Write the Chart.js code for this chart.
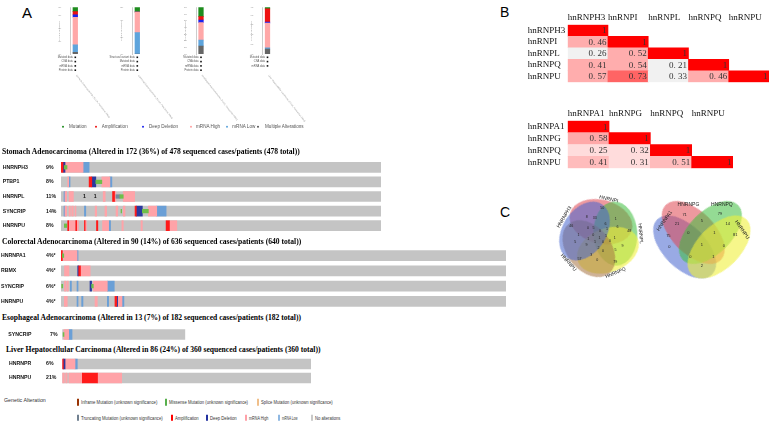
<!DOCTYPE html>
<html>
<head>
<meta charset="utf-8">
<script src="https://cdn.jsdelivr.net/npm/chart.js@4.4.1/dist/chart.umd.min.js"></script>
<style>
  body { margin: 0; width: 769px; height: 425px; background: #fff; position: relative; overflow: hidden;
         font-family: "Liberation Sans", Arial, sans-serif; }
  canvas { position: absolute; }
  .t { position: absolute; white-space: nowrap; line-height: 1; transform: translateY(-50%); color: #000; }
  .ttl { font-family: "Liberation Serif", serif; font-weight: bold; font-size: 7.6px; color: #000; }
  .leg { font-family: "Liberation Sans", sans-serif; font-size: 5px; color: #333; transform-origin: 0 50%; }
  .mleg { font-size: 4.6px; color: #555; }
  .sw { position: absolute; width: 2.2px; height: 6.5px; transform: translateY(-50%); }
  .dot { position: absolute; width: 2.4px; height: 2.4px; border-radius: 50%; transform: translateY(-50%); }
</style>
</head>
<body>
<script>
// ---------- data ----------
// summary bars (alteration frequency, %)
const miniStudies = ['Stomach Adenocarcinoma (TCGA, PanCancer Atlas)', 'Colorectal Adenocarcinoma (TCGA, PanCancer Atlas)',
  'Esophageal Adenocarcinoma (TCGA, PanCancer Atlas)', 'Liver Hepatocellular Carcinoma (TCGA, PanCancer Atlas)'];
const miniProfiles = [
  ['Mutated data', 'CNA data', 'mRNA data', 'Protein data'],
  ['Structural variant data', 'Mutated data', 'mRNA data', 'Protein data'],
  ['Mutated data', 'CNA data', 'mRNA data', 'Protein data'],
  ['Mutated data', 'CNA data', 'mRNA data']
];
const miniTypes = ['Multiple Alterations', 'mRNA Low', 'mRNA High', 'Deep Deletion', 'Amplification', 'Mutation'];
const miniMultiple = [1.3, 0, 1.2, 2.5];
const miniLow = [5.7, 6.4, 0.9, 0.7];
const miniHigh = [21.3, 6.2, 2.6, 12.7];
const miniDeep = [1.8, 0, 0.4, 0.5];
const miniAmp = [2.6, 0, 0.5, 6.8];
const miniMut = [3.3, 1.4, 1.4, 0.8];

// oncoprint tracks: [row, alteration, first case, last case]
const stomachGenes = ['HNRNPH3', 'PTBP1', 'HNRNPL', 'SYNCRIP', 'HNRNPU'];
const stomachPct = ['9%', '8%', '11%', '14%', '8%'];
const stomachCases = 478;
const stomachRuns = [
  [0,'amp',0,3],[0,'del',3,6],[0,'high',6,33],[0,'low',33,42],[0,'mis',5,9],
  [1,'high',10,11.5],[1,'low',12,13.5],[1,'amp',42,46],[1,'del',46,52],[1,'mis',52,61],[1,'high',61,73],[1,'low',73,76],
  [2,'low',4.5,6],[2,'high',6,8.5],[2,'high',12,18.5],[2,'high',63,66],[2,'amp',77,80],[2,'high',80,82],[2,'trunc',82,88],[2,'mis',88,93],[2,'high',93,110],
  [3,'low',4.5,6],[3,'high',6,8.5],[3,'high',12,14],[3,'high',16,18.4],[3,'high',21,22.4],[3,'low',35,37],[3,'high',51,53.3],
  [3,'high',65.7,68.2],[3,'high',82.2,84.7],[3,'mis',89.6,90.6],[3,'high',93,95.6],[3,'amp',110.6,112.5],[3,'del',112.5,121.5],
  [3,'mis',121.5,130.5],[3,'high',130.5,143],[3,'low',143,157],
  [4,'mis',5,8.5],[4,'amp',10,11.5],[4,'high',11.5,21],[4,'amp',22,23.4],[4,'high',23.4,26],[4,'amp',35,36],[4,'high',36,38],
  [4,'amp',53,55],[4,'high',62,71],[4,'low',72,74],[4,'high',91,93],[4,'high',119.5,121.5],[4,'amp',157,162],[4,'high',162,173]
];
const stomachMarks = [[2, 35, '1'], [2, 51, '1']];

const colorectalGenes = ['HNRNPA1', 'RBMX', 'SYNCRIP', 'HNRNPU'];
const colorectalPct = ['4%*', '4%*', '6%*', '4%*'];
const colorectalCases = 640;
const colorectalRuns = [
  [0,'amp',0,2],[0,'mis',2,4],[0,'high',4,23],[0,'low',23,24.5],
  [1,'high',5,11.5],[1,'del',24,25.5],[1,'amp',25.5,28],[1,'high',28,42],
  [2,'mis',1,2.5],[2,'high',5,7],[2,'high',8.6,10.5],[2,'low',13.4,15],[2,'low',23,24.5],[2,'del',41.7,44],[2,'mis',44,46.5],
  [2,'high',46.5,66.6],[2,'low',66.6,76.6],
  [3,'high',4.8,9],[3,'low',23,24.5],[3,'low',29.7,31.6],[3,'high',48.9,52.2],[3,'low',66.6,68.5],[3,'amp',77.6,80],
  [3,'del',80,81.4],[3,'high',81.4,87.7],[3,'low',87.7,90.5]
];

const esophagealGenes = ['SYNCRIP'];
const esophagealPct = ['7%'];
const esophagealCases = 182;
const esophagealRuns = [[0,'mis',1,2.5],[0,'high',2.5,9.5],[0,'low',9.5,14.4]];

const liverGenes = ['HNRNPR', 'HNRNPU'];
const liverPct = ['6%', '21%'];
const liverCases = 360;
const liverRuns = [
  [0,'amp',0,1.5],[0,'del',1.5,4],[0,'high',4,18.4],[0,'low',18.4,21.7],
  [1,'high',0,3],[1,'high',5,7],[1,'high',9.7,18],[1,'high',19,29],[1,'amp',29,51],[1,'high',51,86]
];

// correlation matrices (lower triangle)
const corr1Genes = ['hnRNPH3', 'hnRNPI', 'hnRNPL', 'hnRNPQ', 'hnRNPU'];
const corr1Values = [[1], [0.46, 1], [0.26, 0.52, 1], [0.41, 0.54, 0.21, 1], [0.57, 0.73, 0.33, 0.46, 1]];
const corr2Genes = ['hnRNPA1', 'hnRNPG', 'hnRNPQ', 'hnRNPU'];
const corr2Values = [[1], [0.58, 1], [0.25, 0.32, 1], [0.41, 0.31, 0.51, 1]];

// venn diagrams
const venn1Sets = ['HNRNPI', 'HNRNPL', 'HNRNPQ', 'HNRNPU', 'HNRNPH3'];
const venn1Only = [50, 48, 79, 57, 46];
const venn1Shared = [1, 9, 0, 5, 8, 33, 6, 5, 3, 1, 6, 1, 0, 9, 0, 5, 1, 0, 2, 1, 0, 1, 0, 1, 0, 1];
const venn2Sets = ['HNRNPA1', 'HNRNPG', 'HNRNPQ', 'HNRNPU'];
const venn2Counts = [75, 71, 79, 81, 21, 5, 14, 0, 1, 0, 1, 0, 0, 1, 2];

// ---------- helpers ----------
function canvasAt(x, y, w, h) {
  const c = document.createElement('canvas');
  c.width = w; c.height = h;
  c.style.left = x + 'px'; c.style.top = y + 'px';
  c.style.width = w + 'px'; c.style.height = h + 'px';
  document.body.appendChild(c);
  return c;
}
function text(x, y, s, cls, css) {
  const d = document.createElement('div');
  d.className = 't ' + (cls || '');
  d.textContent = s;
  d.style.left = x + 'px'; d.style.top = y + 'px';
  Object.assign(d.style, css || {});
  document.body.appendChild(d);
  return d;
}
function box(x, y, cls, color) {
  const d = document.createElement('div');
  d.className = cls;
  d.style.left = x + 'px'; d.style.top = y + 'px'; d.style.background = color;
  document.body.appendChild(d);
}
const base = { animation: false, responsive: false, events: [],
  plugins: { legend: { display: false }, tooltip: { enabled: false } } };

// panel letters
text(22, 11.5, 'A', '', { fontSize: '15px' });
text(500, 12, 'B', '', { fontSize: '14px' });
text(500, 211.5, 'C', '', { fontSize: '14px' });

// ---------- summary bars ----------
const miniColors = ['#666666', '#5ea4dc', '#ffa8a8', '#1a22ee', '#ee1111', '#1e8c1e'];
const miniSeries = [miniMultiple, miniLow, miniHigh, miniDeep, miniAmp, miniMut];
[75.3, 137.3, 201, 267.5].forEach((cx, i) => {
  const total = miniSeries.reduce((s, arr) => s + arr[i], 0);
  const el = canvasAt(Math.round(cx - 30), 0, 80, 130);
  const off = cx - Math.round(cx - 30);
  new Chart(el, {
    type: 'bar',
    data: { labels: [''], datasets: miniSeries.map((arr, k) => ({
      label: miniTypes[k], data: [arr[i]], backgroundColor: miniColors[k], barThickness: 4.6, stack: 's' })) },
    options: { ...base,
      layout: { padding: { left: off - 5 - 12, right: 80 - off - 5, top: 7.3, bottom: 76 } },
      scales: {
        x: { display: false, stacked: true },
        y: { stacked: true, min: 0, max: total, afterFit: s => { s.width = 12; },
             grid: { display: false }, border: { color: '#999', width: 0.5 },
             title: { display: true, text: 'Alteration Frequency', font: { size: 2.2 }, color: '#888', padding: 0 },
             ticks: { font: { size: 2.2 }, color: '#888', padding: 1, maxTicksLimit: 8, callback: v => v + '%' } }
      }
    },
    plugins: [{ id: 'miniText', afterDraw(chart) {
      const c = chart.ctx, a = chart.chartArea, mid = (a.left + a.right) / 2;
      c.save();
      c.font = '2.6px "Liberation Sans"'; c.fillStyle = '#555'; c.textBaseline = 'middle'; c.textAlign = 'right';
      miniProfiles[i].forEach((p, j) => {
        const y = a.bottom + 3.3 + j * 4.3;
        c.fillText(p, mid - 2.5, y);
        c.fillStyle = '#111'; c.fillRect(mid - 0.8, y - 0.8, 1.6, 1.6); c.fillStyle = '#555';
      });
      c.translate(mid + 1, a.bottom + 21); c.rotate(52 * Math.PI / 180);
      c.textAlign = 'left'; c.font = '2.3px "Liberation Sans"'; c.fillStyle = '#999';
      c.fillText(miniStudies[i], 0, 0);
      c.restore();
    } }]
  });
});
// summary legend
[[63.3, 69, 'Mutation', '#1e8c1e'], [96, 101.7, 'Amplification', '#ee1111'], [143.3, 149, 'Deep Deletion', '#1a22ee'],
 [190.7, 196, 'mRNA High', '#ffa0a0'], [226.7, 232.3, 'mRNA Low', '#5ea4dc'], [258.3, 265, 'Multiple Alterations', '#555']]
  .forEach(([dx, tx, s, col]) => { box(dx - 1.2, 127, 'dot', col); text(tx, 127, s, 'mleg'); });

// ---------- oncoprint ----------
const altColors = { amp: '#ff1a1a', del: '#2b3a9e', high: '#ffa3a8', low: '#6a9fd6', mis: '#6fbf4a', trunc: '#75889a' };
const altOrder = { high: 3, low: 3, amp: 2, del: 2, mis: 1, trunc: 1 };
function oncoChart(top, rowH, genes, pcts, cases, runs, barLeft, barRight, labelX, pctX, marks) {
  const h = Math.round(rowH * genes.length);
  const w = Math.ceil(barRight) + 4;
  const el = canvasAt(0, Math.round(top), w, h);
  const datasets = [{ label: 'No alterations', data: genes.map(g => ({ x: [0, cases], y: g })),
    backgroundColor: '#c4c4c4', barThickness: 10, order: 9, grouped: false }];
  Object.keys(altColors).forEach(type => {
    const small = type === 'mis' || type === 'trunc';
    datasets.push({ label: type, data: runs.filter(r => r[1] === type).map(r => ({ x: [r[2], r[3]], y: genes[r[0]] })),
      backgroundColor: altColors[type], barThickness: small ? 3.6 : 10, order: altOrder[type], grouped: false });
  });
  new Chart(el, {
    type: 'bar',
    data: { labels: genes, datasets },
    options: { ...base, indexAxis: 'y',
      layout: { padding: { left: barLeft, right: w - barRight, top: 0, bottom: 0 } },
      scales: { x: { type: 'linear', min: 0, max: cases, display: false },
                y: { type: 'category', display: false } } },
    plugins: [{ id: 'rowText', afterDraw(chart) {
      const c = chart.ctx, ys = chart.scales.y, xs = chart.scales.x;
      c.save();
      c.font = 'bold 5.2px "Liberation Sans"'; c.fillStyle = '#111'; c.textBaseline = 'middle';
      genes.forEach((g, i) => { const y = ys.getPixelForValue(i); c.fillText(g, labelX, y); c.fillText(pcts[i], pctX, y); });
      c.textAlign = 'center';
      (marks || []).forEach(([r, at, s]) => c.fillText(s, xs.getPixelForValue(at), ys.getPixelForValue(r)));
      c.restore();
    } }]
  });
}
text(2, 151.7, 'Stomach Adenocarcinoma (Altered in 172 (36%) of 478 sequenced cases/patients (478 total))', 'ttl');
oncoChart(160, 14.6, stomachGenes, stomachPct, stomachCases, stomachRuns, 61, 381, 2.7, 46, stomachMarks);
text(2, 242.3, 'Colorectal Adenocarcinoma (Altered in 90 (14%) of 636 sequenced cases/patients (640 total))', 'ttl');
oncoChart(248.4, 15.2, colorectalGenes, colorectalPct, colorectalCases, colorectalRuns, 61, 506, 1, 46);
text(2, 318.3, 'Esophageal Adenocarcinoma (Altered in 13 (7%) of 182 sequenced cases/patients (182 total))', 'ttl');
oncoChart(327, 15, esophagealGenes, esophagealPct, esophagealCases, esophagealRuns, 62.3, 185.3, 8.3, 50);
text(6, 350, 'Liver Hepatocellular Carcinoma (Altered in 86 (24%) of 360 sequenced cases/patients (360 total))', 'ttl');
oncoChart(357.3, 14, liverGenes, liverPct, liverCases, liverRuns, 62.3, 311, 9, 46);

// genetic alteration legend: [swatch x, row y, text end x, label, colour]
text(4, 400.7, 'Genetic Alteration', 'leg', { fontSize: '5.3px' });
[[78.3, 402.3, 157.7, 'Inframe Mutation (unknown significance)', '#993404'],
 [166, 402.3, 248, 'Missense Mutation (unknown significance)', '#58b04c'],
 [258.3, 402.3, 333, 'Splice Mutation (unknown significance)', '#f0bf8a'],
 [78.3, 417.7, 163, 'Truncating Mutation (unknown significance)', '#708090'],
 [172.3, 417.7, 199, 'Amplification', '#ff0000'],
 [207.3, 417.7, 237, 'Deep Deletion', '#2232a0'],
 [245.7, 417.7, 268, 'mRNA High', '#ffa0a8'],
 [279.3, 417.7, 297.7, 'mRNA Low', '#8fb8e2'],
 [312.3, 417.7, 340.7, 'No alterations', '#c8c8c8']]
  .forEach(([x, y, end, s, col]) => {
    box(x - 1.1, y, 'sw', col);
    const d = text(x + 3, y, s, 'leg');
    const k = (end - x - 3) / d.getBoundingClientRect().width;
    d.style.transform = 'translateY(-50%) scaleX(' + k.toFixed(3) + ')';
  });

// ---------- correlation matrices ----------
const heat1 = v => v >= 1 ? '#ff0000' : v >= 0.7 ? '#ff6464' : v >= 0.4 ? '#ffadad' : '#f1f1f1';
const heat2 = v => v >= 1 ? '#ff0000' : v >= 0.55 ? '#ffa9a9' : v >= 0.4 ? '#ffbcbc' : '#ffdcdc';
const fmt = v => v >= 1 ? '1' : '0. ' + String(Math.round(v * 100)).padStart(2, '0');
function corrChart(left, top, w, h, genes, vals, heat, headH, pad) {
  const data = [];
  vals.forEach((row, r) => row.forEach((v, c) => data.push({ x: [c, c + 1], y: genes[r], v })));
  const font = { family: '"Liberation Serif", serif', size: 9 };
  new Chart(canvasAt(left, top, w, h), {
    type: 'bar',
    data: { labels: genes, datasets: [{ data, backgroundColor: ctx => heat(ctx.raw.v), borderWidth: 0,
      barPercentage: 1, categoryPercentage: 1, grouped: false }] },
    options: { ...base, indexAxis: 'y', layout: { padding: pad },
      scales: {
        x: { type: 'linear', position: 'top', min: 0, max: genes.length,
             grid: { display: false, drawTicks: false }, border: { display: false },
             afterBuildTicks: s => { s.ticks = genes.map((g, i) => ({ value: i })); },
             afterFit: s => { s.height = headH; },
             ticks: { autoSkip: false, align: 'start', padding: 1.5, font, color: '#111', callback: (v, i) => genes[i] } },
        y: { type: 'category', grid: { display: false, drawTicks: false }, border: { display: false },
             afterFit: s => { s.width = 40; },
             ticks: { autoSkip: false, crossAlign: 'far', padding: 0, font, color: '#111' } }
      } },
    plugins: [{ id: 'cellText', afterDatasetsDraw(chart) {
      const c = chart.ctx, meta = chart.getDatasetMeta(0);
      c.save();
      c.font = '9px "Liberation Serif", serif'; c.fillStyle = '#333'; c.textAlign = 'right'; c.textBaseline = 'middle';
      meta.data.forEach((el, i) => c.fillText(fmt(data[i].v), Math.max(el.x, el.base) - 1.5, el.y + 0.5));
      c.restore();
    } }]
  });
}
corrChart(520, 8, 250, 80, corr1Genes, corr1Values, heat1, 16.7, { left: 7.7, right: 1, top: 0, bottom: 5.7 });
corrChart(520, 106, 220, 70, corr2Genes, corr2Values, heat2, 14.7, { left: 7.7, right: 7, top: 0, bottom: 7.7 });

// ---------- venn diagrams ----------
function ellipseImage(a, b, color) {
  const c = document.createElement('canvas');
  c.width = Math.ceil(2 * a); c.height = Math.ceil(2 * b);
  const g = c.getContext('2d');
  g.fillStyle = color;
  g.beginPath(); g.ellipse(c.width / 2, c.height / 2, a, b, 0, 0, Math.PI * 2); g.fill();
  return c;
}
const rad = d => d * Math.PI / 180;
const venn1Colors = ['rgba(222,70,80,0.55)', 'rgba(60,190,60,0.55)', 'rgba(240,240,60,0.6)', 'rgba(165,115,65,0.55)', 'rgba(70,100,205,0.55)'];
const venn2Colors = ['rgba(70,100,205,0.55)', 'rgba(222,70,80,0.55)', 'rgba(60,190,60,0.55)', 'rgba(240,240,60,0.6)'];
const phi = venn1Sets.map((s, k) => -85 + 72 * k);
const polar = (r, deg, cx = 0, cy = 0) => ({ x: cx + r * Math.cos(rad(deg)), y: cy + r * Math.sin(rad(deg)) });

const v1Ell = phi.map(p => polar(17, p));
const v1Rot = phi.map(p => p + 100);
const rings = [[26, 36], [22, -18], [16, 18], [12, -36], [7, 0]];
const v1Spots = phi.map(p => polar(32, p));
rings.forEach(([r, o]) => phi.forEach(p => v1Spots.push(polar(r, p + o))));
v1Spots.push({ x: 0, y: 1 });
const v1Lab = phi.map(p => polar(43, p + 8));
const v1LabRot = phi.map(p => { let r = p + 98; while (r > 90) r -= 180; while (r <= -90) r += 180; return r; });

const c2 = { x: 107, y: 3 };
const v2Ell = [[-18, 8], [-9, -8], [9, -8], [18, 8]].map(([x, y]) => ({ x: c2.x + x, y: c2.y + y }));
const v2Rot = [45, 45, -45, -45];
const v2Spots = [[-35, -4], [-18, -28], [19, -29], [35, -5], [-26, -17], [0, -21], [27, -17], [-14, -8], [13, -8],
  [-34, 8], [0, 6], [23, 7], [-12, 19], [12, 19], [0, 29]].map(([x, y]) => ({ x: c2.x + x, y: c2.y + y }));
const v2Lab = [[-39, -21], [-14, -39], [21, -39], [42, -11]].map(([x, y]) => ({ x: c2.x + x, y: c2.y + y }));
const v2LabRot = [-55, 0, 0, 55];

new Chart(canvasAt(540, 185, 229, 105), {
  type: 'scatter',
  data: { datasets: [
    { data: v1Ell, pointStyle: venn1Colors.map(c => ellipseImage(32, 22, c)), rotation: v1Rot, pointRadius: 1, clip: false },
    { data: v2Ell, pointStyle: venn2Colors.map(c => ellipseImage(39, 21.5, c)), rotation: v2Rot, pointRadius: 1, clip: false },
    { data: v1Spots, texts: venn1Only.concat(venn1Shared).map(String), size: 3.6, pointRadius: 0 },
    { data: v2Spots, texts: venn2Counts.map(String), size: 4, pointRadius: 0 },
    { data: v1Lab, texts: venn1Sets, rots: v1LabRot, size: 5, pointRadius: 0 },
    { data: v2Lab, texts: venn2Sets, rots: v2LabRot, size: 5, pointRadius: 0 }
  ] },
  options: { ...base, layout: { padding: 0 },
    scales: { x: { type: 'linear', min: -57, max: 172, display: false },
              y: { type: 'linear', min: -52, max: 53, reverse: true, display: false } } },
  plugins: [{ id: 'vennText', afterDatasetsDraw(chart) {
    const c = chart.ctx;
    chart.data.datasets.forEach((ds, di) => {
      if (!ds.texts) return;
      chart.getDatasetMeta(di).data.forEach((el, i) => {
        c.save();
        c.translate(el.x, el.y);
        c.rotate(rad(ds.rots ? ds.rots[i] : 0));
        c.font = ds.size + 'px "Liberation Sans"'; c.fillStyle = '#222';
        c.textAlign = 'center'; c.textBaseline = 'middle';
        c.fillText(ds.texts[i], 0, 0);
        c.restore();
      });
    });
  } }]
});
</script>
</body>
</html>
